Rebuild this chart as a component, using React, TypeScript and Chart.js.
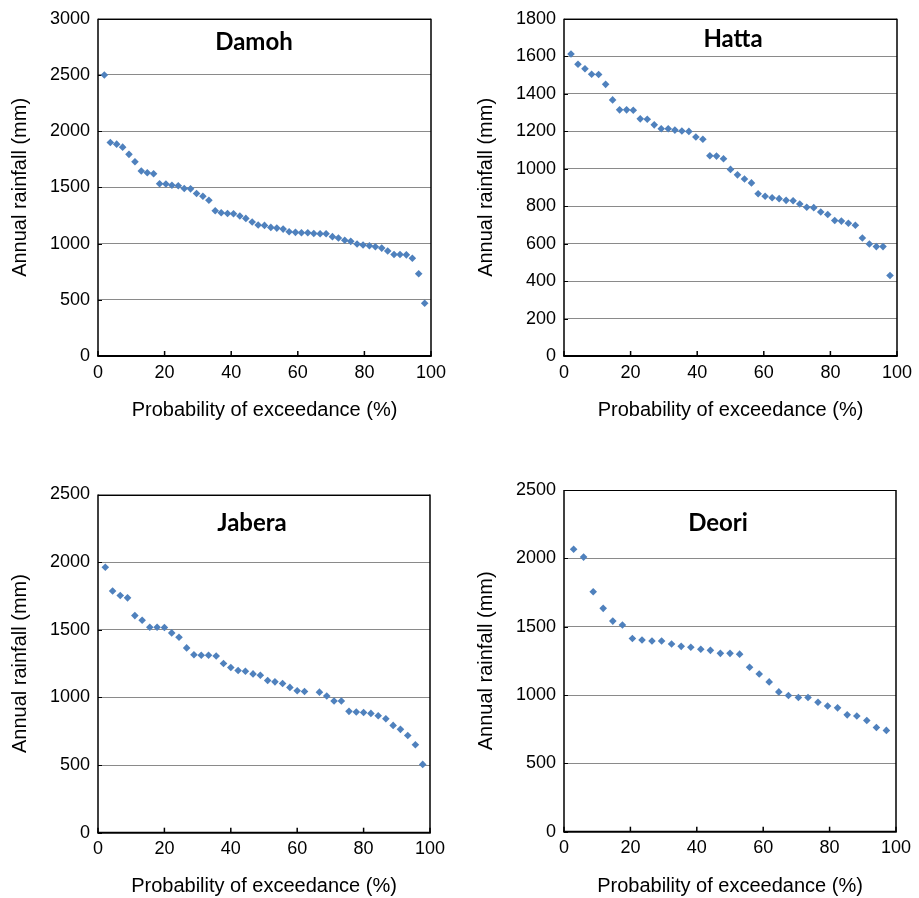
import React, { useEffect, useRef } from "react";
import { Chart, registerables } from "chart.js";

Chart.register(...registerables);

// ---------------- DATA ----------------
const damohX = [1.9, 3.7, 5.6, 7.4, 9.3, 11.1, 13.0, 14.8, 16.7, 18.5, 20.4, 22.2, 24.1, 25.9, 27.8, 29.6, 31.5, 33.3, 35.2, 37.0, 38.9, 40.7, 42.6, 44.4, 46.3, 48.1, 50.0, 51.9, 53.7, 55.6, 57.4, 59.3, 61.1, 63.0, 64.8, 66.7, 68.5, 70.4, 72.2, 74.1, 75.9, 77.8, 79.6, 81.5, 83.3, 85.2, 87.0, 88.9, 90.7, 92.6, 94.4, 96.3, 98.1];
const damohY = [2500, 1900, 1885, 1858, 1794, 1728, 1646, 1631, 1622, 1533, 1530, 1519, 1515, 1490, 1487, 1446, 1421, 1386, 1292, 1274, 1268, 1265, 1245, 1224, 1192, 1165, 1162, 1144, 1138, 1129, 1106, 1100, 1097, 1097, 1090, 1088, 1088, 1062, 1050, 1030, 1020, 996, 987, 981, 972, 960, 934, 903, 903, 900, 870, 732, 469];

const hattaX = [2.1, 4.2, 6.3, 8.3, 10.4, 12.5, 14.6, 16.7, 18.8, 20.8, 22.9, 25.0, 27.1, 29.2, 31.3, 33.3, 35.4, 37.5, 39.6, 41.7, 43.8, 45.8, 47.9, 50.0, 52.1, 54.2, 56.3, 58.3, 60.4, 62.5, 64.6, 66.7, 68.8, 70.8, 72.9, 75.0, 77.1, 79.2, 81.3, 83.3, 85.4, 87.5, 89.6, 91.7, 93.8, 95.8, 97.9];
const hattaY = [1612, 1557, 1533, 1504, 1503, 1450, 1367, 1314, 1314, 1312, 1266, 1264, 1234, 1213, 1213, 1206, 1201, 1199, 1169, 1157, 1069, 1067, 1053, 996, 967, 945, 924, 866, 853, 845, 840, 831, 829, 811, 794, 792, 769, 755, 723, 720, 709, 698, 630, 598, 584, 584, 430];

const jaberaX = [2.2, 4.4, 6.7, 8.9, 11.1, 13.3, 15.6, 17.8, 20.0, 22.2, 24.4, 26.7, 28.9, 31.1, 33.3, 35.6, 37.8, 40.0, 42.2, 44.4, 46.7, 48.9, 51.1, 53.3, 55.6, 57.8, 60.0, 62.2, 66.7, 68.9, 71.1, 73.3, 75.6, 77.8, 80.0, 82.2, 84.4, 86.7, 88.9, 91.1, 93.3, 95.6, 97.8];
const jaberaY = [1962, 1787, 1753, 1736, 1605, 1571, 1519, 1519, 1517, 1477, 1445, 1366, 1315, 1312, 1312, 1306, 1251, 1221, 1199, 1194, 1174, 1164, 1125, 1115, 1103, 1074, 1049, 1044, 1039, 1010, 973, 973, 897, 892, 889, 882, 864, 842, 793, 764, 719, 650, 505];

const deoriX = [2.9, 5.9, 8.8, 11.8, 14.7, 17.6, 20.6, 23.5, 26.5, 29.4, 32.4, 35.3, 38.2, 41.2, 44.1, 47.1, 50.0, 52.9, 55.9, 58.8, 61.8, 64.7, 67.6, 70.6, 73.5, 76.5, 79.4, 82.4, 85.3, 88.2, 91.2, 94.1, 97.1];
const deoriY = [2067, 2009, 1756, 1634, 1541, 1512, 1413, 1403, 1395, 1395, 1373, 1356, 1349, 1335, 1327, 1305, 1305, 1299, 1203, 1154, 1096, 1023, 996, 982, 982, 947, 920, 906, 855, 847, 814, 762, 741];

const xAxisTitle = "Probability of exceedance (%)";
const yAxisTitle = "Annual rainfall (mm)";
const xMax = 100;
const xStep = 20;

// ---------------- LAYOUT ----------------
type Panel = {
  name: string;
  xs: number[];
  ys: number[];
  yMax: number;
  yStep: number;
  left: number;
  top: number;
  w: number;
  h: number;
  area: { l: number; t: number; r: number; b: number };
  padL: number;
  padB: number;
  titleX: number;
  titleY: number;
};

const panels: Panel[] = [
  { name: "Damoh", xs: damohX, ys: damohY, yMax: 3000, yStep: 500, left: 0, top: 0, w: 460, h: 440,
    area: { l: 98, t: 17, r: 431, b: 356 }, padL: 8, padB: 18, titleX: 254, titleY: 42 },
  { name: "Hatta", xs: hattaX, ys: hattaY, yMax: 1800, yStep: 200, left: 460, top: 0, w: 459, h: 440,
    area: { l: 104, t: 17, r: 437, b: 356 }, padL: 14, padB: 18, titleX: 273, titleY: 39 },
  { name: "Jabera", xs: jaberaX, ys: jaberaY, yMax: 2500, yStep: 500, left: 0, top: 440, w: 460, h: 458,
    area: { l: 98, t: 54.5, r: 430, b: 392.7 }, padL: 8, padB: 0, titleX: 252, titleY: 83 },
  { name: "Deori", xs: deoriX, ys: deoriY, yMax: 2500, yStep: 500, left: 460, top: 440, w: 459, h: 458,
    area: { l: 104, t: 50, r: 436, b: 391.7 }, padL: 14, padB: 0, titleX: 258, titleY: 83 },
];

const FONT = "Liberation Sans";
const MARKER = "#4F81BD";

function ChartPanel({ p }: { p: Panel }) {
  const ref = useRef<HTMLCanvasElement | null>(null);

  useEffect(() => {
    if (!ref.current) return;
    const decor = {
      id: "decor",
      beforeDatasetsDraw(chart: any) {
        const { ctx, chartArea: a, scales } = chart;
        ctx.save();
        ctx.strokeStyle = "#000";
        ctx.lineWidth = 1;
        ctx.beginPath();
        ctx.moveTo(a.left, Math.round(a.top) + 0.5);
        ctx.lineTo(a.right, Math.round(a.top) + 0.5);
        ctx.stroke();
        ctx.lineWidth = 1.5;
        ctx.beginPath();
        ctx.moveTo(a.right, a.top);
        ctx.lineTo(a.right, a.bottom);
        ctx.stroke();
        ctx.lineWidth = 1.5;
        ctx.beginPath();
        ctx.moveTo(a.left, a.top);
        ctx.lineTo(a.left, a.bottom);
        ctx.stroke();
        ctx.lineWidth = 2;
        ctx.beginPath();
        ctx.moveTo(a.left - 0.75, a.bottom);
        ctx.lineTo(a.right + 0.75, a.bottom);
        ctx.stroke();
        ctx.lineWidth = 1;
        scales.y.ticks.forEach((t: any) => {
          const py = Math.round(scales.y.getPixelForValue(t.value)) + 0.5;
          ctx.beginPath();
          ctx.moveTo(a.left, py);
          ctx.lineTo(a.left + 4, py);
          ctx.stroke();
        });
        ctx.lineWidth = 1.5;
        scales.x.ticks.forEach((t: any) => {
          const px = scales.x.getPixelForValue(t.value);
          ctx.beginPath();
          ctx.moveTo(px, a.bottom);
          ctx.lineTo(px, a.bottom - 5);
          ctx.stroke();
        });
        ctx.restore();
      },
      afterDraw(chart: any) {
        const { ctx } = chart;
        ctx.save();
        ctx.fillStyle = "#000";
        ctx.font = "bold 24px Lato, 'Open Sans', sans-serif";
        ctx.textAlign = "center";
        ctx.textBaseline = "middle";
        ctx.fillText(p.name, p.titleX, p.titleY);
        ctx.restore();
      },
    };

    const chart = new Chart(ref.current, {
      type: "scatter",
      data: {
        datasets: [
          {
            data: p.xs.map((x, i) => ({ x, y: p.ys[i] })),
            pointStyle: "rectRot",
            pointRadius: 3.8,
            pointBorderWidth: 0,
            backgroundColor: MARKER,
            borderColor: MARKER,
          },
        ],
      },
      options: {
        responsive: false,
        animation: false,
        events: [],
        layout: {
          padding: { left: p.padL, top: p.area.t, right: p.w - p.area.r, bottom: p.padB },
        },
        plugins: {
          legend: { display: false },
          tooltip: { enabled: false },
          title: { display: false },
        },
        scales: {
          x: {
            type: "linear",
            min: 0,
            max: xMax,
            ticks: {
              stepSize: xStep,
              autoSkip: false,
              maxRotation: 0,
              color: "#000",
              padding: 6,
              font: { family: FONT, size: 18 },
              callback: (v: any) => String(v),
            },
            grid: { display: false, drawTicks: false },
            border: { display: false },
            title: {
              display: true,
              text: xAxisTitle,
              color: "#000",
              padding: 0,
              font: { family: FONT, size: 20 },
            },
            afterFit: (s: any) => {
              s.height = p.h - p.padB - p.area.b;
            },
          },
          y: {
            type: "linear",
            min: 0,
            max: p.yMax,
            ticks: {
              stepSize: p.yStep,
              autoSkip: false,
              color: "#000",
              padding: 8,
              font: { family: FONT, size: 18 },
              callback: (v: any) => String(v),
            },
            grid: { color: "#8a8a8a", lineWidth: 1, drawTicks: false },
            border: { display: false },
            title: {
              display: true,
              text: yAxisTitle,
              color: "#000",
              padding: 0,
              font: { family: FONT, size: 20 },
            },
            afterFit: (s: any) => {
              s.width = p.area.l - p.padL;
            },
          },
        },
      },
      plugins: [decor],
    } as any);
    return () => chart.destroy();
  }, [p]);

  return (
    <canvas
      ref={ref}
      width={p.w}
      height={p.h}
      style={{ position: "absolute", left: p.left, top: p.top, width: p.w, height: p.h }}
    />
  );
}

export default function App() {
  return (
    <div style={{ position: "absolute", left: 0, top: 0, width: 919, height: 898, background: "#fff" }}>
      {panels.map((p) => (
        <ChartPanel key={p.name} p={p} />
      ))}
    </div>
  );
}
